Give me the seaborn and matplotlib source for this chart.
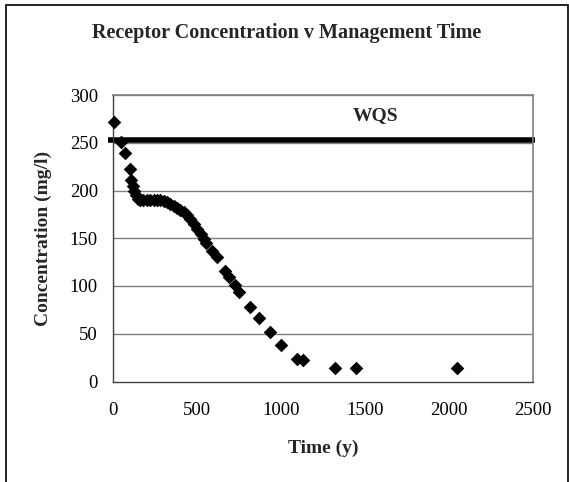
import matplotlib
matplotlib.use("Agg")
import matplotlib.pyplot as plt
import seaborn as sns
import pandas as pd
from matplotlib.patches import Rectangle

# Data
time_y = [5, 46, 72, 101, 105, 115, 125, 135, 145, 160, 180, 200, 220, 240, 260,
          280, 300, 320, 340, 360, 380, 400, 420, 440, 460, 480, 500, 520, 540,
          555, 589, 619, 668, 688, 728, 748, 817, 867, 932, 997, 1094, 1133,
          1324, 1447, 2051]
conc_mgl = [272, 251, 239, 222, 211, 205, 200, 195, 191, 190, 190, 190, 190, 190,
            190, 190, 189, 188, 186, 184, 182, 180, 177, 174, 170, 165, 160, 154,
            149, 145, 137, 130, 116, 109, 101, 94, 78, 66, 52, 38, 24, 22, 14, 14, 14]
wqs_x = [-30, 2515]
wqs_y = [253, 253]
x_ticks = [0, 500, 1000, 1500, 2000, 2500]
y_ticks = [0, 50, 100, 150, 200, 250, 300]

sns.set_theme(style="white")
plt.rcParams["font.family"] = ["Liberation Serif", "DejaVu Serif"]

W, H = 569, 482
fig = plt.figure(figsize=(W / 100, H / 100), dpi=100)
ax = fig.add_axes([113.3 / W, 1 - 381.5 / H, (532.7 - 113.3) / W, (381.5 - 95) / H])

df = pd.DataFrame({"t": time_y, "c": conc_mgl})
wqs = pd.DataFrame({"x": wqs_x, "y": wqs_y})

for v in y_ticks[1:]:
    ax.axhline(v, color="#808080", lw=1.0, zorder=0)

sns.lineplot(data=wqs, x="x", y="y", ax=ax, color="black", lw=4.0,
             clip_on=False, zorder=2, legend=False, solid_capstyle="butt")
sns.scatterplot(data=df, x="t", y="c", ax=ax, marker="D", color="black",
                s=48, edgecolor="black", linewidth=0, clip_on=False, zorder=3)

ax.text(1565, 279, "WQS", ha="center", va="center", fontsize=14,
        fontweight="bold")

ax.set_xlim(0, 2500)
ax.set_ylim(0, 300)
ax.set_xticks(x_ticks)
ax.set_yticks(y_ticks)
ax.tick_params(axis="both", direction="out", length=5, width=0.8,
               labelsize=13.5, colors="black")
ax.tick_params(axis="x", pad=10)
ax.tick_params(axis="y", pad=6)

for s in ["top", "right"]:
    ax.spines[s].set_color("#808080")
    ax.spines[s].set_linewidth(1.2)
for s in ["left", "bottom"]:
    ax.spines[s].set_color("#404040")
    ax.spines[s].set_linewidth(1.0)

ax.set_xlabel("")
ax.set_ylabel("")
fig.text(323 / W, 1 - 448 / H, "Time (y)", ha="center", va="center",
         fontsize=14, fontweight="bold")
fig.text(43 / W, 1 - 238 / H, "Concentration (mg/l)", ha="center",
         va="center", rotation=90, fontsize=14, fontweight="bold")
fig.text(287 / W, 1 - 33 / H, "Receptor Concentration v Management Time",
         ha="center", va="center", fontsize=14.5, fontweight="bold")

fig.patches.append(Rectangle((5.5 / W, -0.05), (567.5 - 5.5) / W,
                             1.05 - 4.5 / H, transform=fig.transFigure,
                             fill=False, edgecolor="black", lw=1.2))

fig.savefig("out.png", dpi=100, facecolor="white")
